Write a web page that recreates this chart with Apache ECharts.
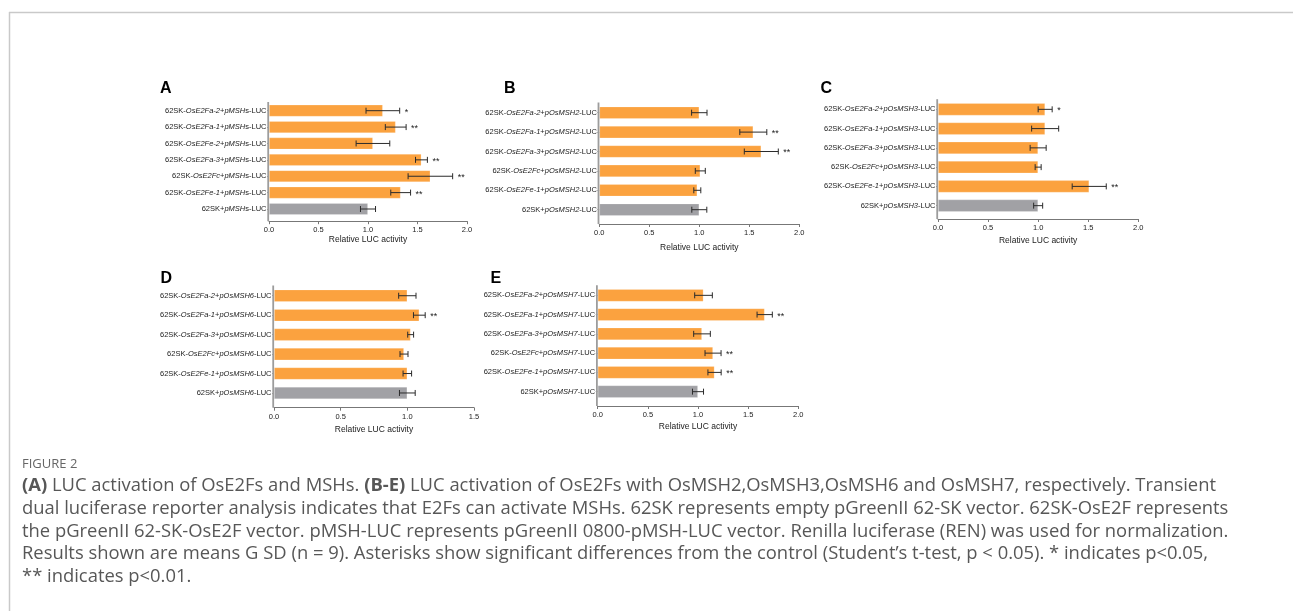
<!DOCTYPE html>
<html>
<head>
<meta charset="utf-8">
<script src="https://cdn.jsdelivr.net/npm/echarts@6/dist/echarts.min.js"></script>
<style>
html,body{margin:0;padding:0;background:#fff;}
#chart{width:1293px;height:611px;}
</style>
</head>
<body>
<div id="chart"></div>
<script>
// ---------- data ----------
const catsA = ['62SK-OsE2Fa-2+pMSHs-LUC','62SK-OsE2Fa-1+pMSHs-LUC','62SK-OsE2Fe-2+pMSHs-LUC','62SK-OsE2Fa-3+pMSHs-LUC','62SK-OsE2Fc+pMSHs-LUC','62SK-OsE2Fe-1+pMSHs-LUC','62SK+pMSHs-LUC'];
const meanA = [1.15, 1.28, 1.05, 1.54, 1.63, 1.33, 1.00];
const sdA   = [0.17, 0.105, 0.17, 0.06, 0.225, 0.10, 0.076];
const starA = ['*','**','','**','**','**',''];

const catsB = ['62SK-OsE2Fa-2+pOsMSH2-LUC','62SK-OsE2Fa-1+pOsMSH2-LUC','62SK-OsE2Fa-3+pOsMSH2-LUC','62SK-OsE2Fc+pOsMSH2-LUC','62SK-OsE2Fe-1+pOsMSH2-LUC','62SK+pOsMSH2-LUC'];
const meanB = [1.00, 1.54, 1.62, 1.01, 0.98, 1.00];
const sdB   = [0.077, 0.135, 0.17, 0.05, 0.035, 0.075];
const starB = ['','**','**','','',''];

const catsC = ['62SK-OsE2Fa-2+pOsMSH3-LUC','62SK-OsE2Fa-1+pOsMSH3-LUC','62SK-OsE2Fa-3+pOsMSH3-LUC','62SK-OsE2Fc+pOsMSH3-LUC','62SK-OsE2Fe-1+pOsMSH3-LUC','62SK+pOsMSH3-LUC'];
const meanC = [1.07, 1.07, 1.00, 1.00, 1.51, 1.00];
const sdC   = [0.07, 0.135, 0.08, 0.03, 0.17, 0.045];
const starC = ['*','','','','**',''];

const catsD = ['62SK-OsE2Fa-2+pOsMSH6-LUC','62SK-OsE2Fa-1+pOsMSH6-LUC','62SK-OsE2Fa-3+pOsMSH6-LUC','62SK-OsE2Fc+pOsMSH6-LUC','62SK-OsE2Fe-1+pOsMSH6-LUC','62SK+pOsMSH6-LUC'];
const meanD = [1.00, 1.09, 1.025, 0.975, 1.00, 1.00];
const sdD   = [0.065, 0.044, 0.022, 0.03, 0.032, 0.059];
const starD = ['','**','','','',''];

const catsE = ['62SK-OsE2Fa-2+pOsMSH7-LUC','62SK-OsE2Fa-1+pOsMSH7-LUC','62SK-OsE2Fa-3+pOsMSH7-LUC','62SK-OsE2Fc+pOsMSH7-LUC','62SK-OsE2Fe-1+pOsMSH7-LUC','62SK+pOsMSH7-LUC'];
const meanE = [1.055, 1.665, 1.04, 1.15, 1.165, 1.00];
const sdE   = [0.088, 0.076, 0.083, 0.08, 0.066, 0.055];
const starE = ['','**','','**','**',''];

const xTicksMax = [2, 2, 2, 1.5, 2];
const xAxisTitle = 'Relative LUC activity';
const panelLetters = ['A','B','C','D','E'];

const captionHead = 'FIGURE 2';
const captionLines = [
  '{b|(A)} LUC activation of OsE2Fs and MSHs. {b|(B-E)} LUC activation of OsE2Fs with OsMSH2,OsMSH3,OsMSH6 and OsMSH7, respectively. Transient',
  'dual luciferase reporter analysis indicates that E2Fs can activate MSHs. 62SK represents empty pGreenII 62-SK vector. 62SK-OsE2F represents',
  'the pGreenII 62-SK-OsE2F vector. pMSH-LUC represents pGreenII 0800-pMSH-LUC vector. Renilla luciferase (REN) was used for normalization.',
  'Results shown are means G SD (n = 9). Asterisks show significant differences from the control (Student\u2019s t-test, p < 0.05). * indicates p<0.05,',
  '** indicates p<0.01.'
];

// ---------- layout ----------
const layout = [
  {grid:{left:269, top:102.5, width:198, height:114.7}, offset:4, nameGap:14, barWidth:12, letter:[160,88.5]},
  {grid:{left:599.3, top:103, width:200, height:116.4}, offset:4.6, nameGap:19, barWidth:12.4, letter:[504,89]},
  {grid:{left:938, top:99.7, width:200.3, height:115.6}, offset:3.7, nameGap:17.5, barWidth:12.4, letter:[820.5,89]},
  {grid:{left:274, top:286, width:200, height:116.7}, offset:5, nameGap:17, barWidth:12.4, letter:[160.5,278.5]},
  {grid:{left:597.7, top:285.7, width:200.6, height:115.6}, offset:4.7, nameGap:16, barWidth:12.6, letter:[490.5,278.5]}
];

const panels = [
  {cats:catsA, mean:meanA, sd:sdA, star:starA},
  {cats:catsB, mean:meanB, sd:sdB, star:starB},
  {cats:catsC, mean:meanC, sd:sdC, star:starC},
  {cats:catsD, mean:meanD, sd:sdD, star:starD},
  {cats:catsE, mean:meanE, sd:sdE, star:starE}
];

const ORANGE = '#FBA23F';
const GREY = '#A1A1A5';
const FONT = '"Liberation Sans", Arial, Helvetica, sans-serif';

function richLabel(s){
  const m = s.match(/^62SK(?:-(.+?))?\+(p\w+?)(s?)-LUC$/);
  if(!m) return s;
  let out = '';
  if(m[1]) out += '{n|62SK-}{i|' + m[1] + '}{n|+}';
  else out += '{n|62SK+}';
  out += '{i|' + m[2] + '}{n|' + m[3] + '-LUC}';
  return out;
}

const grids=[], xAxes=[], yAxes=[], series=[], graphics=[];

panels.forEach((p, k) => {
  const L = layout[k];
  grids.push(Object.assign({containLabel:false}, L.grid));
  xAxes.push({
    type:'value', gridIndex:k, min:0, max:xTicksMax[k], interval:0.5, offset:L.offset,
    axisLine:{show:true, lineStyle:{color:'#777', width:1}},
    axisTick:{show:true, length:3, lineStyle:{color:'#777', width:1}},
    splitLine:{show:false},
    axisLabel:{formatter:v=>v.toFixed(1), fontSize:7.5, color:'#222', margin:5, fontFamily:FONT},
    name:xAxisTitle, nameLocation:'middle', nameGap:L.nameGap,
    nameTextStyle:{fontSize:8.5, color:'#222', fontFamily:FONT}
  });
  yAxes.push({
    type:'category', gridIndex:k, data:p.cats, inverse:true,
    axisLine:{show:false},
    axisTick:{show:true, length:2, alignWithLabel:true, lineStyle:{color:'#999'}},
    axisLabel:{
      formatter:richLabel, margin:2.5, color:'#222', fontSize:7.5, fontFamily:FONT,
      rich:{
        n:{fontSize:7.5, fontFamily:FONT, color:'#222'},
        i:{fontSize:7.5, fontFamily:FONT, color:'#222', fontStyle:'italic'}
      }
    }
  });
  series.push({
    type:'bar', xAxisIndex:k, yAxisIndex:k, barWidth:L.barWidth,
    data:p.mean.map((v,i)=>({value:v, itemStyle:{color: i===p.mean.length-1 ? GREY : ORANGE}})),
    itemStyle:{borderColor:'rgba(255,255,255,0.25)', borderWidth:0.8},
    silent:true, z:2
  });
  series.push({
    type:'custom', xAxisIndex:k, yAxisIndex:k, z:5, silent:true,
    data:p.mean.map((v,i)=>[v, i, p.sd[i]]),
    encode:{x:0, y:1},
    renderItem:(params, api)=>{
      const i = params.dataIndex;
      const m = p.mean[i], s = p.sd[i];
      const a = api.coord([m - s, i]);
      const b = api.coord([m + s, i]);
      const h = 3;
      const ls = {stroke:'#2b2b2b', lineWidth:1};
      const children = [
        {type:'line', shape:{x1:a[0], y1:a[1], x2:b[0], y2:b[1]}, style:ls},
        {type:'line', shape:{x1:a[0], y1:a[1]-h, x2:a[0], y2:a[1]+h}, style:ls},
        {type:'line', shape:{x1:b[0], y1:b[1]-h, x2:b[0], y2:b[1]+h}, style:ls}
      ];
      if(p.star[i]){
        children.push({type:'text', style:{text:p.star[i], x:b[0]+5, y:b[1]+1.5, fill:'#222',
          font:'9px '+FONT, textVerticalAlign:'middle', textAlign:'left'}});
      }
      return {type:'group', children};
    }
  });
  graphics.push({type:'line', z:10, silent:true,
    shape:{x1:L.grid.left-0.8, y1:L.grid.top-0.5, x2:L.grid.left-0.8, y2:L.grid.top+L.grid.height+L.offset},
    style:{stroke:'#9c9c9c', lineWidth:1.8}});
  graphics.push({type:'text', silent:true,
    style:{text:panelLetters[k], x:L.letter[0], y:L.letter[1], font:'bold 16px '+FONT, fill:'#000',
      textVerticalAlign:'middle', textAlign:'left'}});
});

// frame
graphics.push({type:'line', silent:true, shape:{x1:9, y1:12.5, x2:1293, y2:12.5}, style:{stroke:'#c9c9c9', lineWidth:1.5}});
graphics.push({type:'line', silent:true, shape:{x1:9.5, y1:12, x2:9.5, y2:611}, style:{stroke:'#c9c9c9', lineWidth:1.5}});

// caption
const CAPFONT = '"Open Sans", "Noto Sans", sans-serif';
const CAPSIZE = 18.4;
graphics.push({type:'text', silent:true, style:{text:captionHead, x:22, y:464, font:'13px '+CAPFONT, fill:'#666', textVerticalAlign:'middle'}});
const capY = [485.7, 508.5, 531.3, 554, 576.8];
captionLines.forEach((t, i)=>{
  graphics.push({type:'text', silent:true, style:{
    text:t, x:22, y:capY[i], font:CAPSIZE+'px '+CAPFONT, fill:'#575757', textVerticalAlign:'middle',
    rich:{b:{fontWeight:'bold', fontSize:CAPSIZE, fontFamily:CAPFONT, fill:'#575757'}}
  }});
});

const chart = echarts.init(document.getElementById('chart'), null, {renderer:'canvas'});
chart.setOption({
  animation:false,
  backgroundColor:'#fff',
  grid:grids, xAxis:xAxes, yAxis:yAxes, series:series,
  graphic:{elements:graphics}
});
</script>
</body>
</html>
